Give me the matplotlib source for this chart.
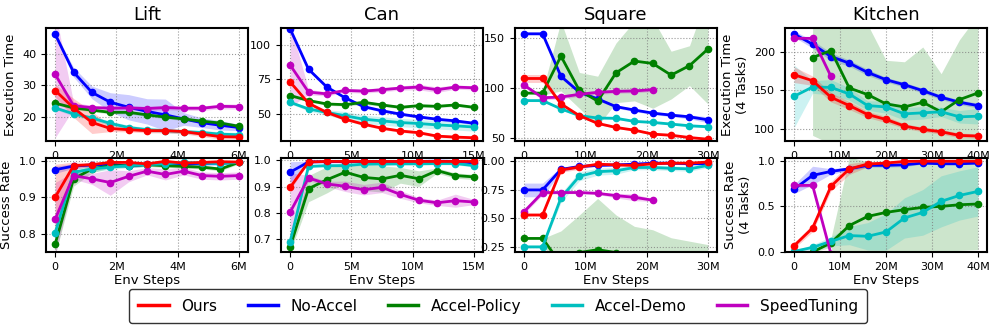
import numpy as np
import matplotlib.pyplot as plt
from matplotlib.ticker import FuncFormatter
from matplotlib.lines import Line2D

nan = np.nan

METHODS = ['Ours', 'No-Accel', 'Accel-Policy', 'Accel-Demo', 'SpeedTuning']
COLORS = ['r', 'b', 'g', 'c', 'm']
ENVS = ['Lift', 'Can', 'Square', 'Kitchen']

# env steps in millions
lift_x = [0, 0.6, 1.2, 1.8, 2.4, 3.0, 3.6, 4.2, 4.8, 5.4, 6.0]
can_x = [0, 1.5, 3, 4.5, 6, 7.5, 9, 10.5, 12, 13.5, 15]
square_x = [0, 3, 6, 9, 12, 15, 18, 21, 24, 27, 30]
kitchen_x = [0, 4, 8, 12, 16, 20, 24, 28, 32, 36, 40]

# rows follow METHODS order
lift_time = [
    [28.3, 22.8, 18.2, 16.3, 15.9, 15.6, 15.6, 15.3, 14.5, 13.7, 13.6],
    [46.1, 34.1, 27.7, 24.6, 23.0, 21.7, 20.6, 19.3, 18.1, 17.3, 16.6],
    [24.3, 22.8, 22.1, 21.4, 21.4, 20.6, 19.9, 19.3, 18.6, 18.0, 17.0],
    [22.8, 20.9, 19.6, 17.9, 16.6, 15.9, 15.6, 15.3, 15.0, 14.5, 14.3],
    [33.4, 23.5, 22.9, 22.7, 22.8, 22.6, 22.9, 22.7, 22.7, 23.3, 23.2],
]
lift_time_std = [
    [2.0, 3.0, 3.5, 1.0, 0.7, 0.7, 0.7, 0.7, 0.8, 0.8, 0.7],
    [0.5, 1.5, 2.0, 3.0, 4.0, 4.0, 5.0, 2.0, 1.5, 1.5, 1.0],
    [0.5, 0.5, 0.5, 0.5, 0.5, 0.5, 0.5, 0.5, 0.5, 0.5, 0.5],
    [0.5, 0.7, 0.7, 0.7, 0.7, 0.7, 0.7, 0.7, 0.7, 0.7, 0.7],
    [20.0, 1.0, 0.7, 0.7, 0.7, 0.7, 0.7, 0.7, 0.7, 0.8, 0.8],
]
lift_succ = [
    [0.900, 0.986, 0.989, 0.995, 0.995, 0.991, 0.998, 0.993, 0.995, 0.997, 0.996],
    [0.975, 0.985, 0.988, 0.990, 0.985, 0.990, 0.990, 0.990, 0.992, 0.993, 0.995],
    [0.772, 0.950, 0.977, 0.986, 0.986, 0.989, 0.986, 0.984, 0.982, 0.977, 0.995],
    [0.803, 0.968, 0.977, 0.982, 0.986, 0.989, 0.991, 0.995, 0.993, 0.992, 0.995],
    [0.840, 0.959, 0.950, 0.940, 0.957, 0.971, 0.962, 0.971, 0.959, 0.957, 0.959],
]
lift_succ_std = [
    [0.09, 0.01, 0.005, 0.004, 0.004, 0.004, 0.003, 0.004, 0.004, 0.003, 0.003],
    [0.01, 0.006, 0.005, 0.005, 0.005, 0.005, 0.005, 0.005, 0.005, 0.005, 0.004],
    [0.03, 0.02, 0.01, 0.006, 0.005, 0.005, 0.005, 0.005, 0.005, 0.005, 0.004],
    [0.03, 0.01, 0.008, 0.006, 0.005, 0.005, 0.005, 0.004, 0.004, 0.004, 0.004],
    [0.10, 0.01, 0.015, 0.035, 0.015, 0.01, 0.015, 0.01, 0.01, 0.01, 0.01],
]

can_time = [
    [73.2, 57.8, 51.2, 46.3, 42.7, 39.8, 37.8, 36.6, 34.1, 33.4, 32.9],
    [111.5, 82.4, 69.5, 61.7, 55.4, 52.4, 50.0, 48.0, 46.3, 45.1, 43.4],
    [63.4, 59.8, 57.3, 56.8, 58.5, 56.6, 54.9, 56.1, 55.6, 56.6, 54.9],
    [58.5, 53.7, 51.2, 48.8, 46.3, 45.1, 43.9, 43.2, 42.2, 41.5, 40.7],
    [85.4, 65.9, 64.6, 67.1, 66.6, 67.6, 68.8, 69.5, 67.6, 69.5, 69.0],
]
can_time_std = [
    [1.0, 1.0, 1.0, 1.0, 1.0, 1.0, 1.0, 1.0, 1.0, 1.0, 1.0],
    [1.0, 1.0, 1.0, 1.0, 1.0, 1.0, 1.0, 1.0, 1.0, 1.0, 1.0],
    [1.0, 1.0, 1.0, 1.0, 1.5, 1.0, 1.0, 1.0, 1.0, 1.0, 1.0],
    [1.0, 1.5, 2.0, 3.0, 3.0, 3.0, 3.0, 3.0, 3.0, 3.0, 3.0],
    [30.0, 2.0, 1.5, 1.5, 1.5, 1.5, 1.5, 2.0, 2.0, 1.5, 1.5],
]
can_succ = [
    [0.897, 0.994, 0.996, 0.996, 0.996, 0.996, 0.996, 0.996, 0.996, 0.996, 0.996],
    [0.955, 0.994, 0.995, 0.995, 0.996, 0.996, 0.995, 0.996, 0.997, 0.996, 0.990],
    [0.670, 0.892, 0.926, 0.955, 0.935, 0.929, 0.943, 0.930, 0.961, 0.942, 0.937],
    [0.690, 0.977, 0.980, 0.980, 0.986, 0.986, 0.987, 0.987, 0.988, 0.988, 0.980],
    [0.802, 0.933, 0.910, 0.901, 0.888, 0.897, 0.870, 0.848, 0.838, 0.846, 0.841],
]
can_succ_std = [
    [0.01, 0.003, 0.003, 0.003, 0.003, 0.003, 0.003, 0.003, 0.003, 0.003, 0.003],
    [0.04, 0.003, 0.003, 0.003, 0.003, 0.003, 0.003, 0.003, 0.003, 0.003, 0.005],
    [0.02, 0.05, 0.05, 0.04, 0.05, 0.05, 0.03, 0.03, 0.01, 0.01, 0.01],
    [0.02, 0.005, 0.005, 0.005, 0.005, 0.005, 0.005, 0.005, 0.005, 0.005, 0.005],
    [0.15, 0.01, 0.01, 0.02, 0.02, 0.02, 0.015, 0.01, 0.01, 0.025, 0.01],
]

square_time = [
    [109.5, 109.5, 84.0, 72.2, 64.4, 60.3, 57.6, 53.6, 52.5, 50.2, 48.5],
    [154.4, 154.4, 111.7, 95.8, 89.0, 81.2, 77.8, 74.7, 72.7, 71.0, 68.0],
    [94.8, 94.8, 132.0, 97.6, 86.8, 115.2, 127.0, 124.6, 112.9, 122.4, 139.0],
    [87.3, 87.3, 79.0, 72.2, 69.8, 69.5, 66.4, 65.4, 63.7, 62.0, 61.0],
    [102.7, 90.2, 90.8, 93.6, 95.6, 96.6, 97.0, 98.3, nan, nan, nan],
]
square_time_std = [
    [4.0, 4.0, 1.5, 1.0, 1.0, 1.0, 1.0, 1.0, 1.0, 1.0, 1.0],
    [1.0, 1.0, 2.0, 1.5, 1.5, 1.5, 1.5, 1.5, 1.5, 2.0, 3.0],
    [0.0, 2.0, 35.0, 18.0, 25.0, 30.0, 40.0, 45.0, 24.0, 20.0, 55.0],
    [1.0, 1.0, 1.0, 1.0, 1.0, 1.0, 1.0, 1.0, 1.0, 1.0, 1.0],
    [2.0, 2.0, 2.0, 2.0, 2.0, 2.0, 2.0, 2.0, nan, nan, nan],
]
square_succ = [
    [0.53, 0.53, 0.926, 0.950, 0.976, 0.970, 0.965, 0.980, 0.985, 0.985, 0.995],
    [0.75, 0.75, 0.930, 0.956, 0.965, 0.970, 0.976, 0.985, 0.985, 0.980, 0.980],
    [0.324, 0.324, 0.10, 0.20, 0.225, 0.20, 0.10, 0.10, 0.10, 0.10, 0.10],
    [0.25, 0.25, 0.68, 0.87, 0.91, 0.918, 0.947, 0.947, 0.94, 0.935, 0.965],
    [0.56, 0.727, 0.727, 0.727, 0.72, 0.70, 0.685, 0.66, nan, nan, nan],
]
square_succ_std = [
    [0.01, 0.01, 0.02, 0.02, 0.01, 0.01, 0.01, 0.01, 0.01, 0.01, 0.01],
    [0.06, 0.06, 0.02, 0.01, 0.01, 0.01, 0.01, 0.01, 0.01, 0.01, 0.01],
    [0.0, 0.0, 0.29, 0.33, 0.45, 0.33, 0.33, 0.30, 0.23, 0.20, 0.17],
    [0.01, 0.01, 0.04, 0.04, 0.03, 0.03, 0.02, 0.02, 0.02, 0.02, 0.02],
    [0.02, 0.02, 0.01, 0.01, 0.01, 0.02, 0.03, 0.01, nan, nan, nan],
]

kitchen_time = [
    [170.2, 162.6, 141.3, 130.6, 119.1, 112.8, 104.3, 100.0, 97.0, 92.3, 91.5],
    [222.6, 209.4, 193.6, 185.1, 173.2, 163.8, 157.4, 149.8, 141.3, 134.9, 130.6],
    [nan, 192.3, 201.3, 153.2, 144.7, 132.8, 128.9, 134.9, 122.6, 138.3, 146.8],
    [142.6, 154.5, 154.0, 145.5, 130.6, 128.9, 120.0, 121.3, 122.6, 116.2, 117.0],
    [217.0, 217.0, 168.1, nan, nan, nan, nan, nan, nan, nan, nan],
]
kitchen_time_std = [
    [10.0, 6.0, 6.0, 5.0, 4.0, 4.0, 3.0, 3.0, 3.0, 3.0, 3.0],
    [4.0, 5.0, 5.0, 4.0, 4.0, 3.0, 3.0, 3.0, 3.0, 3.0, 3.0],
    [nan, 100.0, 120.0, 100.0, 90.0, 56.0, 58.0, 71.0, 49.0, 77.0, 100.0],
    [40.0, 8.0, 10.0, 8.0, 6.0, 8.0, 8.0, 8.0, 6.0, 8.0, 10.0],
    [2.0, 2.0, 2.0, nan, nan, nan, nan, nan, nan, nan, nan],
]
kitchen_succ = [
    [0.07, 0.263, 0.72, 0.91, 0.964, 0.975, 0.993, 0.995, 0.995, 0.995, 0.995],
    [0.69, 0.84, 0.883, 0.912, 0.95, 0.95, 0.956, 0.975, 0.967, 0.967, 0.975],
    [nan, 0.0, 0.10, 0.29, 0.39, 0.434, 0.464, 0.489, 0.50, 0.518, 0.526],
    [0.007, 0.05, 0.117, 0.18, 0.172, 0.22, 0.373, 0.434, 0.555, 0.62, 0.664],
    [0.73, 0.73, -0.02, nan, nan, nan, nan, nan, nan, nan, nan],
]
kitchen_succ_std = [
    [0.03, 0.04, 0.05, 0.06, 0.03, 0.02, 0.01, 0.01, 0.01, 0.01, 0.01],
    [0.05, 0.10, 0.03, 0.02, 0.02, 0.02, 0.02, 0.01, 0.01, 0.01, 0.01],
    [nan, 0.0, 0.05, 0.75, 0.60, 0.55, 0.50, 0.50, 0.50, 0.50, 0.50],
    [0.01, 0.03, 0.05, 0.10, 0.15, 0.20, 0.22, 0.25, 0.28, 0.27, 0.27],
    [0.02, 0.02, 0.02, nan, nan, nan, nan, nan, nan, nan, nan],
]

X = [lift_x, can_x, square_x, kitchen_x]
TIME = [lift_time, can_time, square_time, kitchen_time]
TIME_STD = [lift_time_std, can_time_std, square_time_std, kitchen_time_std]
SUCC = [lift_succ, can_succ, square_succ, kitchen_succ]
SUCC_STD = [lift_succ_std, can_succ_std, square_succ_std, kitchen_succ_std]

XTICKS = [[0, 2, 4, 6], [0, 5, 10, 15], [0, 10, 20, 30], [0, 10, 20, 30, 40]]
TIME_YTICKS = [[20, 30, 40], [50, 75, 100], [50, 100, 150], [100, 150, 200]]
SUCC_YTICKS = [[0.8, 0.9, 1.0], [0.7, 0.8, 0.9, 1.0], [0.25, 0.5, 0.75, 1.0], [0.0, 0.5, 1.0]]
TIME_YLIM = [(12.3, 48), (30.5, 112), (46.6, 160), (85, 230)]
SUCC_YLIM = [(0.75, 1.007), (0.65, 1.009), (0.205, 1.03), (0.0, 1.03)]

fig = plt.figure(figsize=(9.96, 3.32), dpi=100)
lefts = [0.0462, 0.2821, 0.5171, 0.7882]
width = 0.2028
fmt = FuncFormatter(lambda v, p: '0' if v == 0 else f'{v:g}M')
draw_order = [1, 2, 3, 4, 0]


def draw(ax, x, means, stds):
    x = np.array(x, dtype=float)
    for i in draw_order:
        y = np.array(means[i], dtype=float)
        s = np.array(stds[i], dtype=float)
        m = ~np.isnan(y)
        ax.fill_between(x[m], y[m] - s[m], y[m] + s[m], color=COLORS[i], alpha=0.2, linewidth=0)
        ax.plot(x[m], y[m], color=COLORS[i], marker='o', markersize=4.5, linewidth=2)


for k in range(4):
    ax_t = fig.add_axes([lefts[k], 0.575, width, 0.340])
    ax_b = fig.add_axes([lefts[k], 0.241, width, 0.283])
    draw(ax_t, X[k], TIME[k], TIME_STD[k])
    draw(ax_b, X[k], SUCC[k], SUCC_STD[k])
    ax_t.set_title(ENVS[k], fontsize=13)
    ax_t.set_ylim(*TIME_YLIM[k])
    ax_b.set_ylim(*SUCC_YLIM[k])
    ax_t.set_yticks(TIME_YTICKS[k])
    ax_b.set_yticks(SUCC_YTICKS[k])
    for ax in (ax_t, ax_b):
        ax.set_xticks(XTICKS[k])
        ax.xaxis.set_major_formatter(fmt)
        ax.tick_params(labelsize=8)
        ax.grid(True, linestyle=':', color='gray', linewidth=0.8, alpha=0.8)
        for sp in ax.spines.values():
            sp.set_linewidth(1.5)
    ax_b.set_xlabel('Env Steps', fontsize=9.5, labelpad=2)
    if k == 0:
        ax_t.set_ylabel('Execution Time', fontsize=9.5)
        ax_b.set_ylabel('Success Rate', fontsize=9.5)
    if k == 3:
        ax_t.set_ylabel('Execution Time\n(4 Tasks)', fontsize=9.5)
        ax_b.set_ylabel('Success Rate\n(4 Tasks)', fontsize=9.5)

handles = [Line2D([], [], color=c, linewidth=2.5) for c in COLORS]
leg = fig.legend(handles, METHODS, loc='center', bbox_to_anchor=(0.5, 0.078), ncol=5,
                 fontsize=11, frameon=True, edgecolor='black', fancybox=True,
                 borderpad=0.6)
leg.get_frame().set_linewidth(1.0)

fig.savefig('out.png', dpi=100)
